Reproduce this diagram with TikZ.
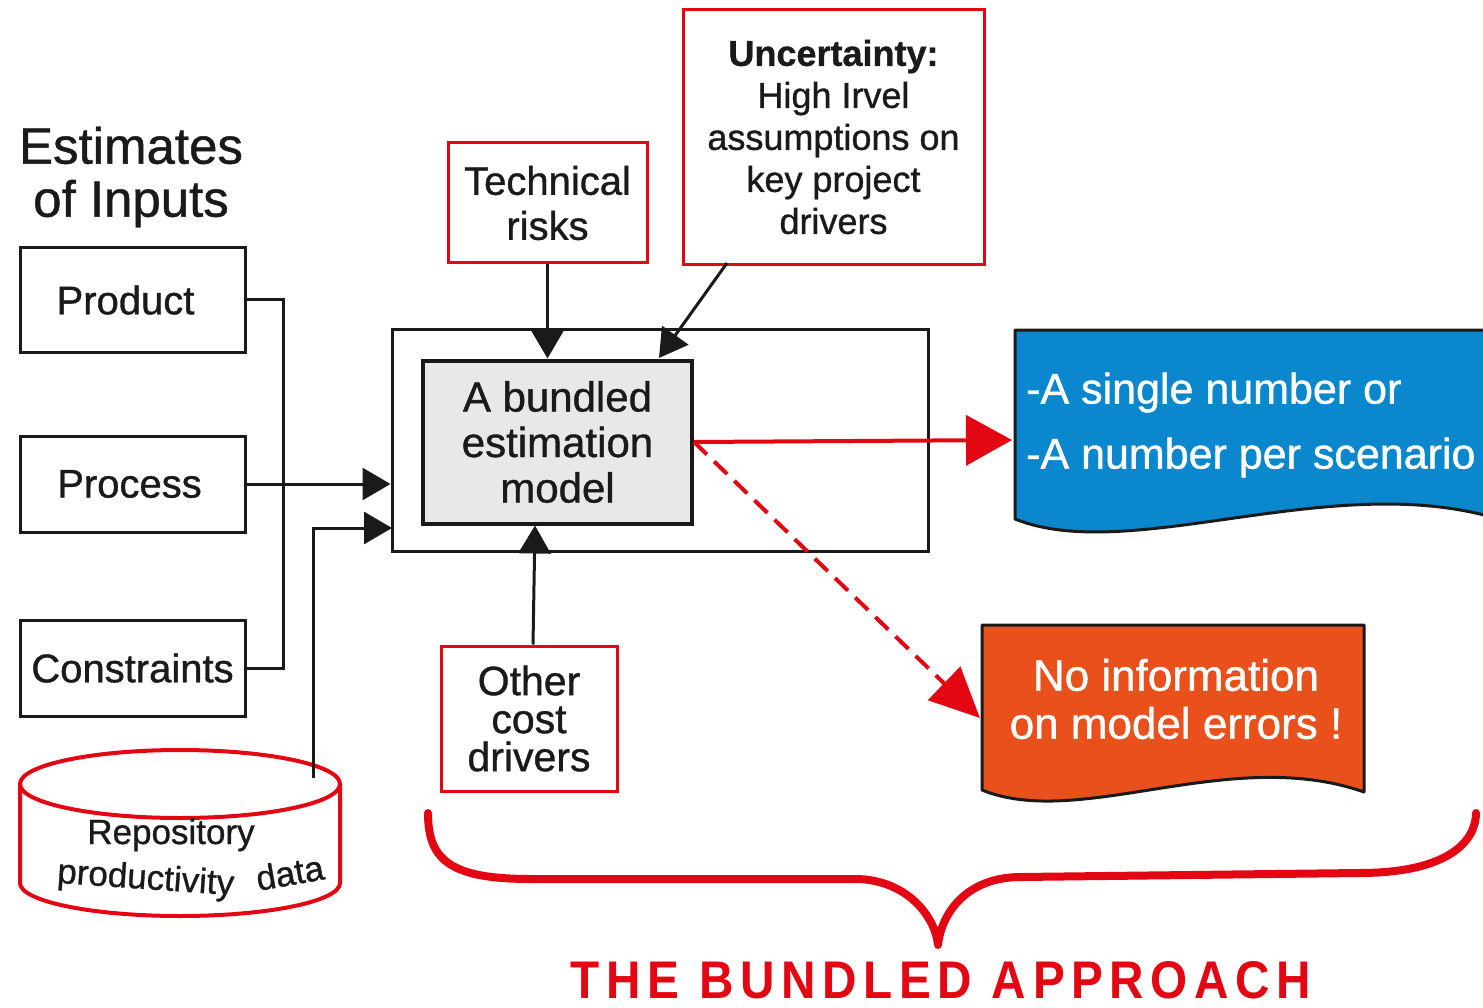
\documentclass[tikz,border=0pt]{standalone}
\usepackage{fontspec}
\setmainfont[FakeBold=0.9]{Liberation Sans}
\newfontfamily\titlefont[FakeStretch=0.9,LetterSpace=12.5]{Liberation Sans}
\usetikzlibrary{arrows.meta}
\definecolor{txt}{HTML}{1A1A1A}
\definecolor{myred}{HTML}{E30613}
\definecolor{myblue}{HTML}{0A87CD}
\definecolor{myorange}{HTML}{E9501C}
\definecolor{modelgray}{HTML}{E8E8E8}
\begin{document}
\begin{tikzpicture}[x=1pt,y=-1pt,
  inbox/.style={draw=txt,line width=3pt,minimum width=225pt,inner sep=0pt,text=txt,font=\fontsize{40}{45}\selectfont},
  redbox/.style={draw=myred,line width=3pt,inner sep=0pt,text=txt,align=center},
  plainline/.style={draw=txt,line width=3pt},
  blackarrow/.style={draw=txt,line width=3pt,-{Triangle[length=28pt,width=32pt]}},
  redarrow/.style={draw=myred,line width=4pt,-{Triangle[length=46pt,width=50pt]}},
  reddash/.style={draw=myred,line width=4pt,dash pattern=on 18pt off 10pt,-{Triangle[length=50pt,width=46pt]}},
  wavebox/.style={draw=txt,line width=3pt,line join=round},
  cyltext/.style={text=txt,anchor=base,inner sep=0pt,font=\fontsize{35}{40}\selectfont}
]
\useasboundingbox (0,0) rectangle (1483,1008);

% heading
\node[text=txt,align=center,font=\fontsize{51}{53}\selectfont] (est) at (131,177) {Estimates\\of Inputs};

% input boxes
\node[inbox,minimum height=104pt] (product) at (132.5,300) {\hspace*{-14pt}Product};
\node[inbox,minimum height=96pt] (process) at (132.5,484) {\hspace*{-6pt}Process};
\node[inbox,minimum height=96pt] (constraints) at (132.5,668) {Constraints};

% repository cylinder
\draw[myred,line width=4pt] (180,784) ellipse [x radius=160, y radius=34];
\draw[myred,line width=4pt] (20,784) -- (20,883)
  .. controls (20,901.2) and (91.6,916) .. (180,916)
  .. controls (268.4,916) and (340,901.2) .. (340,883) -- (340,784);
\node[cyltext] (repotext) at (171,844) {Repository};
\node[cyltext,rotate=-4] (prodtext) at (145,889) {productivity};
\node[cyltext,rotate=10] (datatext) at (292,885) {data};
\coordinate (repo) at (313,778);

% model boxes
\node[draw=txt,line width=3pt,minimum width=536pt,minimum height=222pt] (outer) at (660,440) {};
\node[draw=txt,line width=4pt,fill=modelgray,minimum width=269pt,minimum height=163pt,
  text=txt,align=center,font=\fontsize{42}{45.5}\selectfont] (model) at (557.5,442) {A bundled\\estimation\\model};

% red boxes
\node[redbox,minimum width=199pt,minimum height=120pt,font=\fontsize{40}{45}\selectfont] (tech) at (547.5,203) {Technical\\risks};
\node[redbox,minimum width=301pt,minimum height=255pt,font=\fontsize{36}{42}\selectfont] (unc) at (833.5,137) {\textbf{Uncertainty:}\\High Irvel\\assumptions on\\key project\\drivers};
\node[redbox,minimum width=176pt,minimum height=145pt,font=\fontsize{41}{38}\selectfont] (other) at (529,718.5) {Other\\cost\\drivers};

% result shapes
\begin{scope}
\clip (0,0) rectangle (1483,1008);
\path[fill=myblue] (1495,330) -- (1015,330) -- (1015,519)
  .. controls (1130,565) and (1330,470) .. (1495,518) -- cycle;
\draw[wavebox] (1495,330) -- (1015,330) -- (1015,519)
  .. controls (1130,565) and (1330,470) .. (1495,518);
\end{scope}
\node[text=white,anchor=west,align=left,inner sep=0pt,font=\fontsize{43}{65}\selectfont] (blue) at (1026,425) {-A single number or\\-A number per scenario};
\coordinate (bluein) at (1012,440);

\draw[wavebox,fill=myorange] (982,790) -- (982,625) -- (1364,625) -- (1364,792)
  .. controls (1230,745) and (1080,830) .. (982,790) -- cycle;
\node[text=white,align=center,font=\fontsize{44}{48}\selectfont] (orange) at (1176,699) {No information\\on model errors !};
\coordinate (orangein) at (980,718);

% connectors
\draw[plainline] (product.east) -- ++(37,0) |- (constraints.east);
\draw[blackarrow] (process.east) -- (process.east -| outer.west);
\coordinate (in2) at (392,528);
\draw[blackarrow] (repo) |- (in2);
\draw[blackarrow] (tech.south) -- (tech.south |- model.north);
\coordinate (uncfoot) at (727,263);
\coordinate (uncin) at (659,358);
\draw[blackarrow] (uncfoot) -- (uncin);
\draw[blackarrow] ([xshift=4pt]other.north) -- ([xshift=6pt]other.north |- model.south);
\draw[redarrow] (model.east) -- (bluein);
\draw[reddash] (model.east) -- (orangein);

% brace
\draw[myred,line width=8pt,line cap=round,line join=round]
  (428,813) .. controls (428,860) and (450,879) .. (531,879) -- (855,879)
  .. controls (905,879) and (935,915) .. (938,945)
  .. controls (941,915) and (965,877) .. (1021,877) -- (1359,873)
  .. controls (1450,873) and (1476,840) .. (1476,813);
\node[text=myred,inner sep=0pt,font=\titlefont\bfseries\fontsize{53}{60}\selectfont] (title) at (941,980) {THE BUNDLED APPROACH};
\end{tikzpicture}
\end{document}
